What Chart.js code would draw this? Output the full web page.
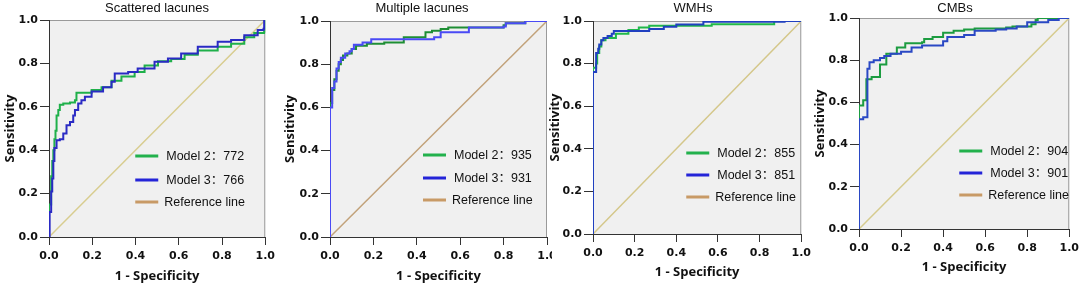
<!DOCTYPE html>
<html>
<head>
<meta charset="utf-8">
<script src="https://cdn.jsdelivr.net/npm/chart.js@4.4.1/dist/chart.umd.min.js"></script>
<style>
  html, body { margin: 0; padding: 0; background: #fff; }
  body { width: 1084px; height: 285px; position: relative; overflow: hidden; }
  .clip { position: absolute; top: 0; height: 285px; overflow: hidden; }
  .box { position: relative; height: 285px; }
</style>
</head>
<body>
<div class="clip" id="p0"><div class="box"><canvas id="c0"></canvas></div></div>
<div class="clip" id="p1"><div class="box"><canvas id="c1"></canvas></div></div>
<div class="clip" id="p2"><div class="box"><canvas id="c2"></canvas></div></div>
<div class="clip" id="p3"><div class="box"><canvas id="c3"></canvas></div></div>
<script>
// ---- data ----
const titles = ['Scattered lacunes', 'Multiple lacunes', 'WMHs', 'CMBs'];
const aucModel2 = ['772', '935', '855', '904'];
const aucModel3 = ['766', '931', '851', '901'];
const tickLabels = ['0.0', '0.2', '0.4', '0.6', '0.8', '1.0'];
const referenceLine = [[0, 0], [1, 1]];

// ROC points [1 - specificity, sensitivity]
const scatteredM2 = [[0,0],[0,0.15],[0.01,0.28],[0.015,0.35],[0.02,0.40],[0.025,0.45],[0.03,0.49],[0.035,0.56],[0.043,0.585],[0.05,0.61],[0.066,0.615],[0.097,0.62],[0.12,0.63],[0.127,0.665],[0.197,0.677],[0.243,0.69],[0.289,0.72],[0.335,0.74],[0.396,0.76],[0.442,0.79],[0.504,0.81],[0.565,0.82],[0.627,0.84],[0.688,0.86],[0.78,0.877],[0.842,0.89],[0.903,0.92],[0.949,0.94],[0.995,0.946],[1,1]];
const scatteredM3 = [[0,0],[0.003,0.115],[0.01,0.21],[0.015,0.27],[0.02,0.35],[0.025,0.41],[0.035,0.446],[0.05,0.45],[0.066,0.477],[0.081,0.515],[0.097,0.53],[0.112,0.56],[0.12,0.585],[0.135,0.615],[0.15,0.63],[0.166,0.646],[0.197,0.67],[0.25,0.69],[0.289,0.715],[0.304,0.754],[0.366,0.76],[0.41,0.777],[0.488,0.808],[0.55,0.823],[0.611,0.846],[0.688,0.877],[0.78,0.9],[0.842,0.908],[0.903,0.93],[0.965,0.954],[0.992,0.96],[0.995,1],[1,1]];
const multipleM2 = [[0,0],[0,0.62],[0.01,0.68],[0.02,0.73],[0.03,0.77],[0.04,0.8],[0.05,0.82],[0.06,0.84],[0.08,0.85],[0.1,0.87],[0.12,0.885],[0.17,0.895],[0.25,0.9],[0.34,0.925],[0.44,0.948],[0.47,0.955],[0.51,0.963],[0.545,0.97],[0.8,0.98],[0.81,0.99],[0.9,1],[1,1]];
const multipleM3 = [[0,0],[0,0.5],[0,0.6],[0.01,0.6],[0.01,0.69],[0.02,0.72],[0.03,0.78],[0.04,0.81],[0.05,0.83],[0.07,0.85],[0.09,0.86],[0.1,0.87],[0.11,0.89],[0.15,0.9],[0.19,0.915],[0.47,0.915],[0.48,0.925],[0.51,0.948],[0.64,0.97],[0.8,0.975],[0.81,0.99],[0.9,1],[1,1]];
const wmhM2 = [[0,0],[0,0.78],[0.015,0.8],[0.02,0.85],[0.03,0.88],[0.04,0.91],[0.06,0.92],[0.1,0.92],[0.11,0.94],[0.17,0.958],[0.22,0.969],[0.27,0.978],[0.57,0.985],[0.87,0.989],[0.87,1],[1,1]];
const wmhM3 = [[0,0],[0,0.76],[0.015,0.85],[0.025,0.87],[0.03,0.89],[0.04,0.91],[0.05,0.92],[0.07,0.93],[0.09,0.94],[0.1,0.953],[0.27,0.962],[0.34,0.973],[0.4,0.984],[0.53,0.997],[0.92,1],[1,1]];
const cmbM2 = [[0,0],[0,0.585],[0.02,0.61],[0.035,0.71],[0.06,0.72],[0.1,0.78],[0.13,0.83],[0.18,0.86],[0.22,0.88],[0.3,0.885],[0.31,0.9],[0.35,0.91],[0.4,0.93],[0.45,0.94],[0.5,0.945],[0.55,0.95],[0.7,0.955],[0.73,0.96],[0.82,0.97],[0.84,0.99],[0.85,1],[1,1]];
const cmbM3 = [[0,0],[0,0.52],[0.02,0.53],[0.04,0.76],[0.05,0.79],[0.07,0.8],[0.1,0.81],[0.12,0.82],[0.15,0.83],[0.2,0.84],[0.25,0.86],[0.3,0.87],[0.4,0.89],[0.42,0.91],[0.5,0.92],[0.55,0.94],[0.65,0.945],[0.7,0.95],[0.75,0.96],[0.8,0.98],[0.9,0.99],[0.95,1],[1,1]];

// ---- layout / style per panel ----
const panels = [
  { m2: scatteredM2, m3: scatteredM3, left: 0,   width: 280, clipW: 280, area: [49, 266, 20, 237],
    titleX: 157, xTitleY: 276, swatch: 130, rows: [81, 57, 35],
    green: '#1fb04a', blue: '#2a2ac4', diag: '#d8cd90' },
  { m2: multipleM2, m3: multipleM3, left: 280, width: 282, clipW: 272, area: [330, 547, 21, 237],
    titleX: 422, xTitleY: 276, swatch: 124, rows: [82, 59, 37],
    green: '#1e8e34', blue: '#4a4af5', diag: '#c2a27a' },
  { m2: wmhM2, m3: wmhM3, left: 545, width: 271, clipW: 271, area: [593, 802, 21, 234],
    titleX: 693, xTitleY: 272, swatch: 115, rows: [81, 59, 37],
    green: '#20b84a', blue: '#2040c0', diag: '#d4c78a' },
  { m2: cmbM2, m3: cmbM3, left: 810, width: 274, clipW: 274, area: [859, 1073, 18, 229],
    titleX: 955, xTitleY: 267, swatch: 110, rows: [78, 56, 34],
    green: '#1c9c40', blue: '#2a48c4', diag: '#d6cb8e' }
];
const legendColors = ['#22b14c', '#2424d8', '#c89a66'];

const toXY = (arr) => arr.map(p => ({ x: p[0], y: p[1] }));

// background, frame, title and in-plot legend
const panelPlugin = {
  id: 'panel',
  beforeDraw(chart, args, o) {
    const { ctx, chartArea: a } = chart;
    ctx.save();
    ctx.fillStyle = '#f0f0f0';
    ctx.fillRect(a.left, a.top, a.right - a.left, a.bottom - a.top);
    ctx.strokeStyle = '#9a9a9a';
    ctx.lineWidth = 1;
    ctx.beginPath();
    ctx.moveTo(a.left, a.top + 0.5);
    ctx.lineTo(a.right - 0.5, a.top + 0.5);
    ctx.lineTo(a.right - 0.5, a.bottom);
    ctx.stroke();
    ctx.restore();
  },
  afterDraw(chart, args, o) {
    const { ctx, chartArea: a } = chart;
    ctx.save();
    ctx.fillStyle = '#111';
    ctx.textBaseline = 'middle';
    ctx.textAlign = 'center';
    ctx.font = '13px "Liberation Sans", Arial, sans-serif';
    ctx.fillText(o.title, o.titleX, 8);
    ctx.textAlign = 'left';
    ctx.font = '12.5px "Liberation Sans", Arial, "Noto Sans CJK SC", sans-serif';
    const x0 = a.right - o.swatch;
    chart.data.datasets.forEach((ds, i) => {
      const y = a.bottom - o.rows[i];
      ctx.strokeStyle = legendColors[i];
      ctx.lineWidth = 3;
      ctx.beginPath();
      ctx.moveTo(x0, y);
      ctx.lineTo(x0 + 23, y);
      ctx.stroke();
      ctx.fillText(ds.label, x0 + 23 + (i < 2 ? 8 : 6), y + 1);
    });
    ctx.restore();
  }
};

const tickFont = { family: '"DejaVu Sans", sans-serif', size: 11, weight: 'bold' };
const titleFont = { family: '"Open Sans", sans-serif', size: 13, weight: 'bold', lineHeight: 1 };

panels.forEach((p, i) => {
  const clip = document.getElementById('p' + i);
  clip.style.left = p.left + 'px';
  clip.style.width = p.clipW + 'px';
  clip.firstElementChild.style.width = p.width + 'px';
  const [aL, aR, aT, aB] = p.area;

  new Chart(document.getElementById('c' + i), {
    type: 'line',
    data: {
      datasets: [
        { label: 'Model 2：' + aucModel2[i], data: toXY(p.m2), borderColor: p.green, borderWidth: 2,
          stepped: 'before', pointRadius: 0, fill: false, order: 2 },
        { label: 'Model 3：' + aucModel3[i], data: toXY(p.m3), borderColor: p.blue, borderWidth: 2,
          stepped: 'before', pointRadius: 0, fill: false, order: 1 },
        { label: 'Reference line', data: toXY(referenceLine), borderColor: p.diag, borderWidth: 1.5,
          pointRadius: 0, fill: false, order: 3 }
      ]
    },
    options: {
      responsive: true,
      maintainAspectRatio: false,
      animation: false,
      layout: { padding: { top: aT, right: p.left + p.width - aR, bottom: 0, left: 0 } },
      plugins: {
        legend: { display: false },
        tooltip: { enabled: false },
        panel: { title: titles[i], titleX: p.titleX - p.left, swatch: p.swatch, rows: p.rows }
      },
      scales: {
        x: {
          type: 'linear', min: 0, max: 1,
          afterFit: (s) => { s.height = 285 - aB; },
          grid: { drawOnChartArea: false, tickLength: 8, color: '#333' },
          border: { color: '#333', width: 1 },
          ticks: { stepSize: 0.2, padding: 5, color: '#111', font: tickFont,
                   callback: (v, k) => tickLabels[k] },
          title: { display: true, text: '1 - Specificity', color: '#111', font: titleFont,
                   padding: { top: 0, bottom: 285 - p.xTitleY - 6.5 } }
        },
        y: {
          type: 'linear', min: 0, max: 1,
          afterFit: (s) => { s.width = aL - p.left; },
          grid: { drawOnChartArea: false, tickLength: 9, color: '#333' },
          border: { color: '#333', width: 1 },
          ticks: { stepSize: 0.2, padding: 2, color: '#111', font: tickFont,
                   callback: (v, k) => tickLabels[k] },
          title: { display: true, text: 'Sensitivity', color: '#111', font: titleFont,
                   padding: { top: 3.5, bottom: 0 } }
        }
      }
    },
    plugins: [panelPlugin]
  });
});
</script>
</body>
</html>
